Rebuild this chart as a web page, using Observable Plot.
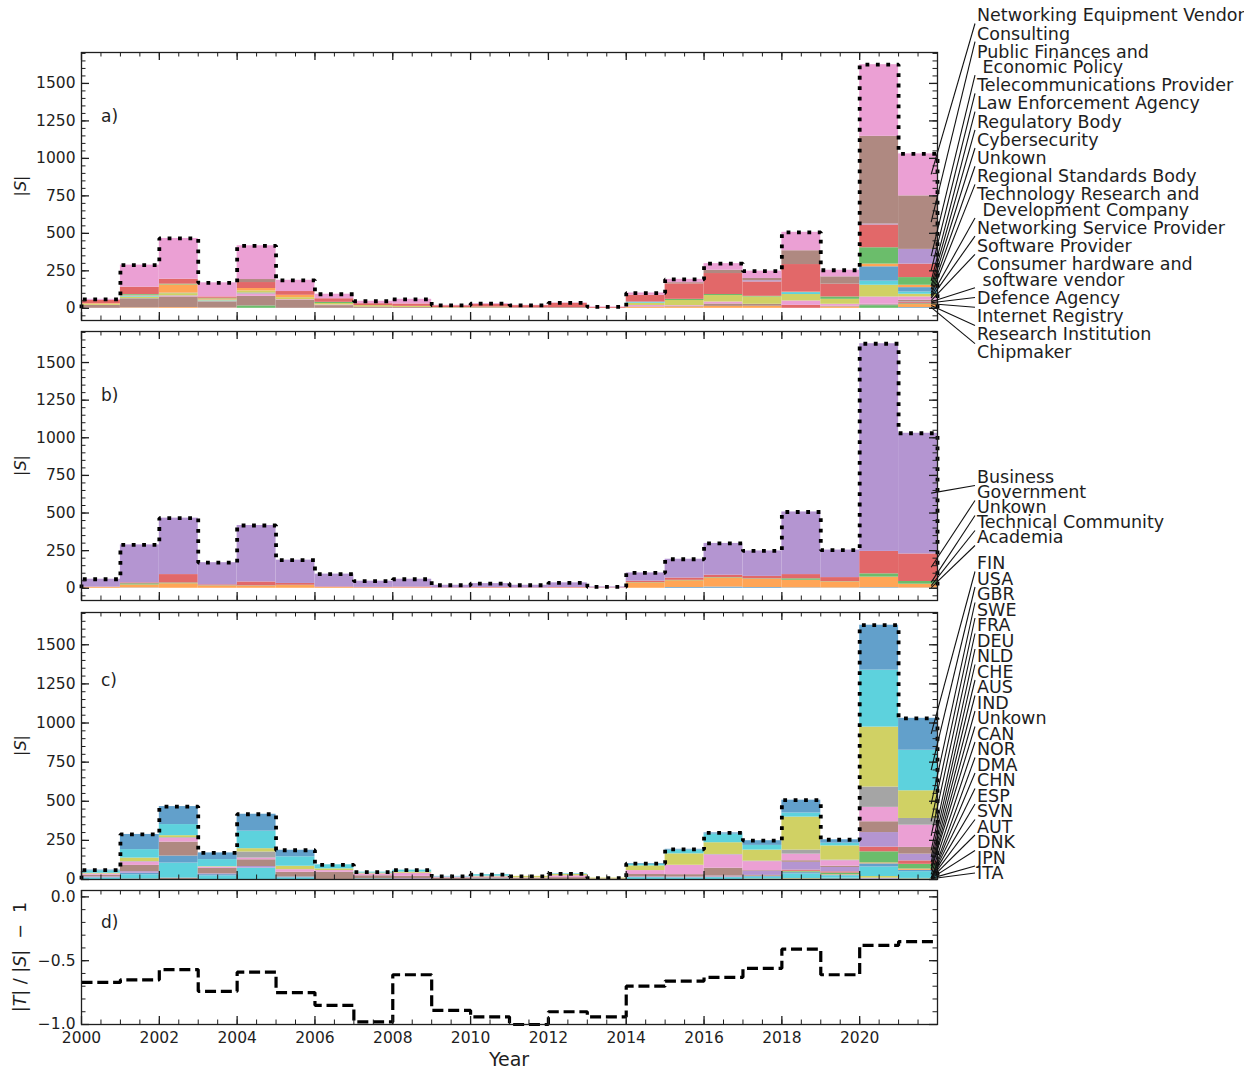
<!DOCTYPE html>
<html><head><meta charset="utf-8">
<script src="https://cdn.jsdelivr.net/npm/d3@7"></script>
<script src="https://cdn.jsdelivr.net/npm/@observablehq/plot@0.6"></script>
<style>
html,body{margin:0;padding:0;background:#fff;overflow:hidden;}
#chart{position:relative;width:1244px;height:1072px;overflow:hidden;font-family:"DejaVu Sans";}
#chart svg{position:absolute;left:0;}
</style></head><body><div id="chart"></div>
<script>
// ---------------- DATA ----------------
const years = [2000,2001,2002,2003,2004,2005,2006,2007,2008,2009,2010,2011,2012,2013,2014,2015,2016,2017,2018,2019,2020,2021];
const yTickLabels = [0,250,500,750,1000,1250,1500];
const xTickLabels = [2000,2002,2004,2006,2008,2010,2012,2014,2016,2018,2020];
const ratioTickLabels = [0,-0.5,-1];

// a) sectors, bottom of stack first
const sectorNames = ["Chipmaker","Research Institution","Internet Registry","Defence Agency",
  "Consumer hardware and\n software vendor","Software Provider","Networking Service Provider",
  "Technology Research and\n Development Company","Regional Standards Body","Unkown","Cybersecurity",
  "Regulatory Body","Law Enforcement Agency","Telecommunications Provider",
  "Public Finances and\n Economic Policy","Consulting","Networking Equipment Vendor"];
const sectorValues = [
  [0,0,0,0,0,0,0,0,0,0,0,0,0,0,0,0,0,0,0,0,0,5],          // Chipmaker
  [0,3,5,2,0,0,0,0,0,0,0,0,0,0,7,9,13,14,0,9,0,20],       // Research Institution
  [0,0,0,0,16,0,0,0,0,0,0,0,0,0,0,0,0,0,0,0,18,5],        // Internet Registry
  [0,0,0,0,0,0,0,0,0,0,0,0,0,0,0,0,0,0,20,0,0,8],         // Defence Agency
  [0,0,0,0,0,0,0,0,0,0,0,0,0,0,0,0,0,0,0,0,4,4],          // Consumer hw/sw vendor
  [20,60,71,40,64,55,18,9,6,3,4,4,5,0,3,4,16,13,0,5,5,12],// Software Provider
  [0,0,5,0,15,3,4,0,0,0,0,0,0,0,9,5,13,0,29,13,47,22],    // Networking Service Provider
  [0,2,3,5,8,0,0,0,0,0,0,0,0,0,0,0,0,0,0,0,2,0],          // Technology R&D
  [7,10,14,3,13,13,10,9,7,2,4,0,0,0,15,34,43,49,43,33,78,18], // Regional Standards Body
  [0,5,3,5,0,0,0,0,0,0,0,0,0,0,5,0,0,0,13,0,27,15],       // Unkown
  [0,3,0,0,0,0,0,0,0,0,0,0,0,0,3,0,0,0,0,0,96,29],        // Cybersecurity
  [4,4,55,8,16,16,0,0,0,0,0,0,0,0,0,0,0,0,3,0,18,16],     // Regulatory Body
  [0,5,5,4,0,0,8,0,0,0,0,0,0,0,0,8,7,4,0,16,109,51],      // Law Enforcement Agency
  [22,49,33,9,40,25,24,13,16,12,18,14,28,6,45,103,140,96,184,85,152,90], // Telecom Provider
  [0,0,0,0,0,0,0,0,0,0,0,0,0,0,0,0,0,8,0,0,6,98],         // Public Finances
  [0,0,0,0,20,0,0,0,0,0,0,0,0,0,0,8,22,15,92,49,585,357], // Consulting
  [7,147,272,94,225,75,30,16,31,3,5,2,3,3,15,22,44,49,123,44,478,280] // Networking Equipment Vendor
];

// b) stakeholder groups, bottom first
const groupNames = ["Academia","Technical Community","Unkown","Government","Business"];
const groupValues = [
  [0,2,0,0,0,0,0,0,0,0,0,0,0,0,0,5,8,5,3,2,4,2],
  [6,20,30,15,14,18,5,3,3,0,2,0,2,0,36,45,60,55,50,40,70,25],
  [0,8,5,2,2,2,0,0,0,0,0,0,0,0,2,3,3,3,10,2,22,18],
  [2,6,56,6,26,12,4,3,5,3,3,3,3,3,9,15,16,16,28,27,149,183],
  [52,252,375,147,375,155,85,41,52,17,26,17,31,6,55,125,211,169,416,183,1380,802]
];

// c) countries, bottom first
const countryNames = ["ITA","JPN","DNK","AUT","SVN","ESP","CHN","DMA","NOR","CAN","Unkown","IND","AUS","CHE","NLD","DEU","FRA","SWE","GBR","USA","FIN"];
const countryValues = [
  [0,0,0,0,0,0,0,0,0,0,0,0,0,0,0,0,0,0,0,5,3,4],   // ITA
  [0,0,0,0,0,0,0,0,0,0,0,0,0,0,0,0,0,0,0,0,0,0],   // JPN
  [0,0,0,0,0,0,0,0,0,0,0,0,0,0,0,0,0,0,0,0,0,0],   // DNK
  [0,0,0,0,0,0,0,0,0,0,0,0,0,0,0,0,0,0,0,0,0,0],   // AUT
  [0,0,0,0,0,0,0,0,0,0,0,0,0,0,0,0,0,0,0,0,0,0],   // SVN
  [0,3,9,0,0,0,0,0,0,0,0,0,0,0,0,0,0,0,3,0,0,0],   // ESP
  [0,0,0,0,0,0,0,0,0,0,0,0,0,0,0,0,0,0,0,0,3,0],   // CHN
  [0,0,0,0,0,0,0,0,0,0,0,0,0,0,0,0,0,0,0,0,3,0],   // DMA
  [0,0,0,0,0,0,0,0,0,0,0,0,0,0,0,0,0,3,3,3,10,3],  // NOR
  [9,27,96,23,73,10,0,4,0,0,3,0,0,0,12,11,12,12,30,15,61,43], // CAN
  [3,10,45,8,0,6,0,0,0,0,0,0,0,0,0,0,3,5,8,5,20,9], // Unkown
  [0,0,0,0,0,0,0,0,0,0,0,0,0,0,0,0,0,0,3,3,6,8],   // IND
  [0,0,0,0,0,0,0,0,0,0,0,0,0,0,0,0,0,3,5,10,71,30],// AUS
  [0,0,0,0,0,0,0,0,0,0,0,0,0,0,0,0,2,3,8,8,30,22], // CHE
  [5,10,0,5,10,0,0,0,5,0,0,0,0,0,5,5,5,25,50,28,93,43], // NLD
  [10,40,89,35,43,30,46,20,15,10,8,6,12,4,15,15,50,5,10,8,69,43], // DEU
  [8,22,25,8,11,17,11,12,20,6,6,4,12,0,25,60,85,58,42,35,92,142], // FRA
  [0,3,4,0,39,0,0,0,0,0,0,0,0,0,0,0,3,4,26,4,130,43], // SWE
  [5,22,12,3,21,22,11,5,7,0,4,10,8,5,30,73,75,70,211,91,383,177], // GBR
  [15,54,71,45,112,60,26,6,13,4,10,0,4,0,10,24,55,30,26,17,364,259], // USA
  [5,97,115,43,108,42,0,0,0,0,0,0,0,0,5,5,8,30,82,22,287,204] // FIN
];

// d) |T|/|S| - 1
const ratioValues = [-0.67,-0.65,-0.57,-0.74,-0.59,-0.75,-0.85,-0.98,-0.61,-0.89,-0.94,-1.0,-0.90,-0.94,-0.70,-0.66,-0.63,-0.56,-0.41,-0.61,-0.38,-0.35];

// ---------------- STYLE / LAYOUT ----------------
const tab10 = ["#1f77b4","#ff7f0e","#2ca02c","#d62728","#9467bd","#8c564b","#e377c2","#7f7f7f","#bcbd22","#17becf"];
function fade(hex){const c=d3.rgb(hex);return d3.rgb(c.r*0.7+76.5,c.g*0.7+76.5,c.b*0.7+76.5).formatHex();}
const W=1244, ML=81, MR=307, FW=W-ML-MR, INK="#1e1e1e", FONT="DejaVu Sans";
const xMinor = d3.range(2000.5, 2022, 0.5);
const chart = document.getElementById("chart");

function scaleOf(plot,name){const s=plot.scale(name); if(s && typeof s.apply==="function") return v=>s.apply(v); return d3.scaleLinear(s.domain,s.range);}

function frameTicks(fh, majorY, minorY){
  return [
    Plot.tickY(minorY,{y:d=>d,insetRight:FW-4.5,stroke:INK,strokeWidth:1}),
    Plot.tickY(minorY,{y:d=>d,insetLeft:FW-4.5,stroke:INK,strokeWidth:1}),
    Plot.tickY(majorY,{y:d=>d,insetRight:FW-8,stroke:INK,strokeWidth:1.3}),
    Plot.tickY(majorY,{y:d=>d,insetLeft:FW-8,stroke:INK,strokeWidth:1.3}),
    Plot.tickX(xMinor,{x:d=>d,insetBottom:fh-4.5,stroke:INK,strokeWidth:1}),
    Plot.tickX(xMinor,{x:d=>d,insetTop:fh-4.5,stroke:INK,strokeWidth:1}),
    Plot.tickX(xTickLabels,{x:d=>d,insetBottom:fh-8,stroke:INK,strokeWidth:1.3}),
    Plot.tickX(xTickLabels,{x:d=>d,insetTop:fh-8,stroke:INK,strokeWidth:1.3}),
    Plot.frame({stroke:INK,strokeWidth:1.3})
  ];
}

function addYLabel(g, top, cy, parts, fs){
  const t=g.append("text").attr("transform",`translate(20,${cy-top}) rotate(-90)`)
    .attr("text-anchor","middle").attr("dy","0.35em").attr("font-size",fs).attr("fill",INK).attr("font-family",FONT)
    .style("white-space","pre");
  parts.forEach(([s,it])=>t.append("tspan").attr("font-style",it?"italic":"normal").text(s));
}
function addLetter(g, top, cy, s){
  g.append("text").attr("x",101).attr("y",cy-top+6).attr("text-anchor","start").attr("font-size",17)
    .attr("fill",INK).attr("font-family",FONT).text(s);
}

function stackedPanel(cfg){
  const {names, values, top, marginTop, marginBottom, frameH, yDomain, minorY, letter, letterY, labelStart, labelStep, lineStep} = cfg;
  const height = marginTop+frameH+marginBottom;
  const rows = names.flatMap((name,i)=>years.map((year,j)=>({year, x2:year+1, cat:name, value:values[i][j]})));
  const totals = years.map((_,j)=>d3.sum(values,r=>r[j]));
  const last = years.length-1;
  const outline = [{x:years[0],y:0}, ...years.map((x,j)=>({x,y:totals[j]})), {x:years[last]+1,y:totals[last]}, {x:years[last]+1,y:0}];
  const plot = Plot.plot({
    width:W, height, marginLeft:ML, marginRight:MR, marginTop, marginBottom,
    style:{background:"none", fontFamily:FONT, fontSize:"15.5px", color:INK},
    x:{domain:[2000,2022], axis:null},
    y:{domain:yDomain, ticks:yTickLabels, tickSize:0, tickPadding:6, tickFormat:d=>String(d), label:null},
    color:{domain:names, range:names.map((_,i)=>fade(tab10[i%10]))},
    marks:[
      Plot.rectY(rows,{x1:"year", x2:"x2", y:"value", fill:"cat", order:names}),
      Plot.line(outline,{x:"x", y:"y", curve:"step-after", stroke:"#000", strokeWidth:3.8, strokeDasharray:"3.8,6.6", strokeLinecap:"butt", strokeLinejoin:"miter"}),
      ...frameTicks(frameH, yTickLabels, minorY)
    ]
  });
  plot.style.top = top+"px";
  chart.appendChild(plot);
  const sx=scaleOf(plot,"x"), sy=scaleOf(plot,"y");
  const g=d3.select(plot).append("g");
  addLetter(g, top, letterY, letter);
  addYLabel(g, top, top+marginTop+frameH/2, [["|",0],["S",1],["|",0]], 16);
  // annotations to last bar
  let cum=0;
  const mids = values.map(r=>{const m=cum+r[last]/2; cum+=r[last]; return m;});
  const fs=17.5, half=8.5;
  let y=labelStart;
  const tx = sx(2021.85);
  for(let k=names.length-1;k>=0;k--){
    const lines=names[k].split("\n");
    const centers=lines.map((_,li)=>y+li*lineStep);
    lines.forEach((s,li)=>{
      g.append("text").attr("x",977).attr("y",centers[li]-top+0.36*fs).attr("text-anchor","start").attr("font-size",fs)
        .attr("font-family",FONT).attr("fill",INK).style("white-space","pre").text(s);
    });
    const btop=centers[0]-half, bbot=centers[centers.length-1]+half, bmid=(btop+bbot)/2;
    const ty=sy(mids[k])+top;
    const ay = ty>bbot? bbot : (ty<btop? btop : bmid);
    g.append("line").attr("x1",tx).attr("y1",ty-top).attr("x2",975).attr("y2",ay-top)
      .attr("stroke","#111").attr("stroke-width",1.1);
    y=centers[centers.length-1]+labelStep;
  }
  return plot;
}

stackedPanel({names:sectorNames, values:sectorValues, top:0, marginTop:52, marginBottom:50, frameH:268,
  yDomain:[-81.25,1706.25], minorY:d3.range(-50,1701,50), letter:"a)", letterY:116,
  labelStart:15, labelStep:18.2, lineStep:15.3});
stackedPanel({names:groupNames, values:groupValues, top:320, marginTop:11, marginBottom:5, frameH:269,
  yDomain:[-81.25,1706.25], minorY:d3.range(-50,1701,50), letter:"b)", letterY:395,
  labelStart:477, labelStep:15, lineStep:15});
stackedPanel({names:countryNames, values:countryValues, top:550, marginTop:62, marginBottom:14, frameH:267,
  yDomain:[0,1706.25], minorY:d3.range(0,1701,50), letter:"c)", letterY:680,
  labelStart:563, labelStep:15.5, lineStep:15.5});

// panel d
(function(){
  const top=885, mt=5, fh=134, mb=48;
  const last=years.length-1;
  const pts=[...years.map((x,j)=>({x,y:ratioValues[j]})), {x:years[last]+1, y:ratioValues[last]}];
  const plot=Plot.plot({
    width:W, height:mt+fh+mb, marginLeft:ML, marginRight:MR, marginTop:mt, marginBottom:mb,
    style:{background:"none", fontFamily:FONT, fontSize:"15.5px", color:INK},
    x:{domain:[2000,2022], ticks:xTickLabels, tickSize:0, tickPadding:7, tickFormat:d=>String(d), label:null},
    y:{domain:[-1,0.05], ticks:ratioTickLabels, tickSize:0, tickPadding:6, tickFormat:d=>d===0?"0.0":"\u2212"+Math.abs(d).toFixed(1), label:null},
    marks:[
      Plot.line(pts,{x:"x", y:"y", curve:"step-after", stroke:"#000", strokeWidth:3.2, strokeDasharray:"11,4.8", strokeLinecap:"butt", strokeLinejoin:"miter"}),
      ...frameTicks(fh, ratioTickLabels, d3.range(-10,1,1).map(d=>d/10))
    ]
  });
  plot.style.top=top+"px";
  chart.appendChild(plot);
  const g=d3.select(plot).append("g");
  addLetter(g, top, 922, "d)");
  addYLabel(g, top, top+mt+fh/2, [["|",0],["T",1],["|",0],[" / ",0],["|",0],["S",1],["|",0],["  \u2212  1",0]], 17.5);
  g.append("text").attr("x",(ML+W-MR)/2).attr("y",1066-top).attr("text-anchor","middle")
    .attr("font-size",19).attr("font-family",FONT).attr("fill",INK).text("Year");
})();
</script></body></html>
